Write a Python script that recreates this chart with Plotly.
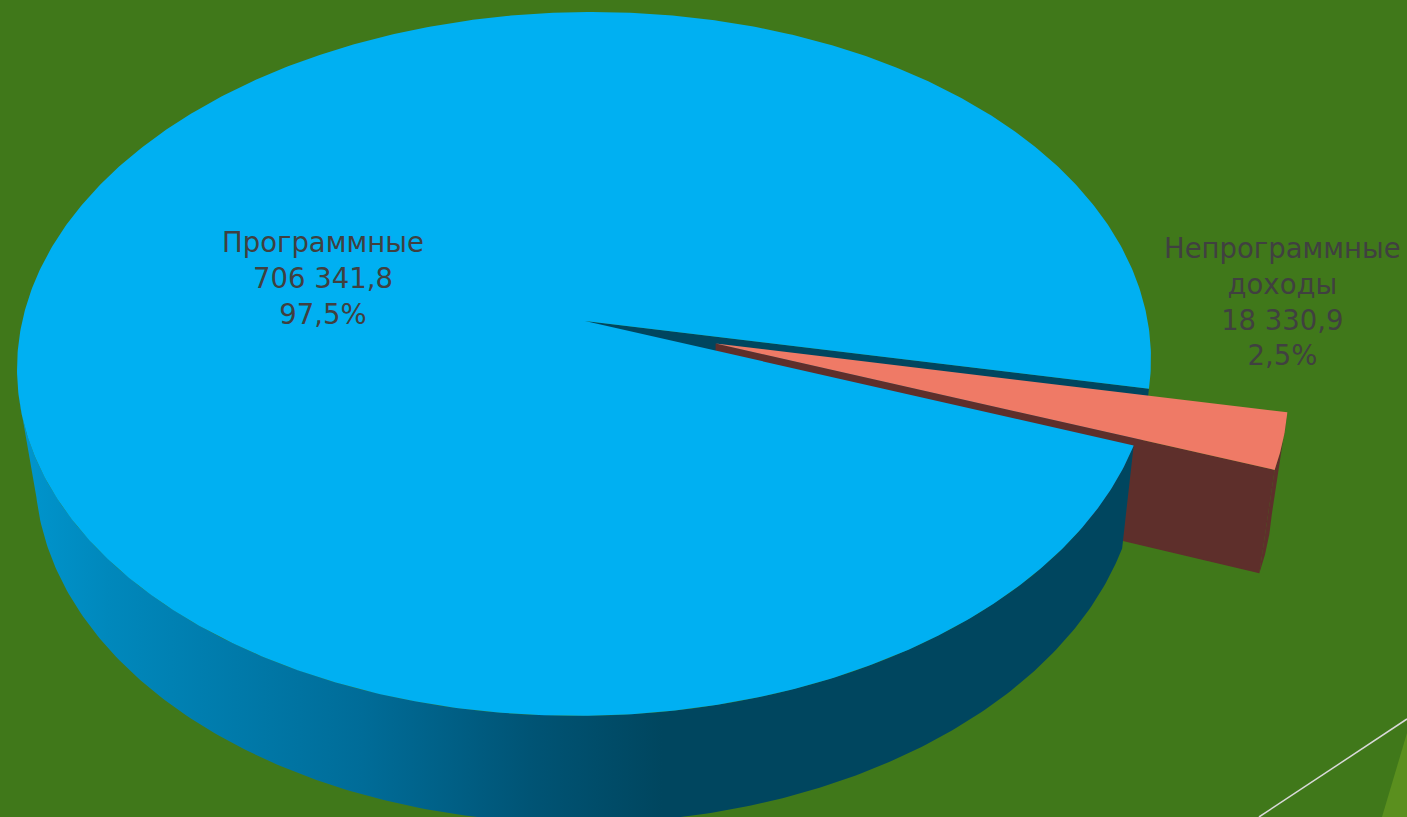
import numpy as np
import plotly.graph_objects as go

# ---- data ----
categories = ["Программные", "Непрограммные<br>доходы"]
values = [706341.8, 18330.9]
value_labels = ["706 341,8", "18 330,9"]
percent_labels = ["97,5%", "2,5%"]

# ---- style / view geometry ----
W, H = 1407, 817
GREEN = "#40781A"
BLUE_TOP = "#00B0F2"
BLUE_DARK = "#00465F"
PINK_TOP = "#EF7A66"
PINK_SIDE = "#5E2F2B"
TEXT = "#404040"
START_DEG = 11.0     # first-slice rotation
EXPLODE = 0.24
K = -0.122
SHEAR = -0.0227
TOP_VIEW = dict(ax=562.7, by=346.7, x0=584.0, y0=321.0, ym=364.0)
BOT_VIEW = dict(ax=547.9, by=352.3, x0=587.0, y0=422.0, ym=465.0)


def project(X, Y, v):
    """Perspective projection of the unit pie plane to the page."""
    d = 1 + K * Y
    y = v["y0"] + v["by"] * Y / d
    x = v["x0"] + v["ax"] * X / d + SHEAR * (y - v["ym"])
    return x, y


def rim(a0, a1, v, off=(0.0, 0.0), n=240):
    t = np.radians(np.linspace(a0, a1, n))
    return project(np.cos(t) + off[0], np.sin(t) + off[1], v)


def poly(x, y, color, **kw):
    return go.Scatter(x=list(x), y=list(y), mode="lines", fill="toself",
                      fillcolor=color, line=dict(width=0), hoverinfo="skip",
                      showlegend=False, **kw)


share = values[1] / sum(values)
a0 = START_DEG
a1 = START_DEG + share * 360
mid = np.radians((a0 + a1) / 2)
off = (EXPLODE * np.cos(mid), EXPLODE * np.sin(mid))

fig = go.Figure()


def cut_wall(angle, offset):
    """Vertical face from the apex to the rim at one slice edge."""
    c, s = np.cos(np.radians(angle)), np.sin(np.radians(angle))
    ox, oy = offset
    tx, ty = project(np.array([ox, c + ox]), np.array([oy, s + oy]), TOP_VIEW)
    bx, by = project(np.array([ox, c + ox]), np.array([oy, s + oy]), BOT_VIEW)
    return [tx[0], tx[1], bx[1], bx[0]], [ty[0], ty[1], by[1], by[0]]


# blue cut wall, seen through the gap
x, y = cut_wall(a0, (0, 0))
fig.add_trace(poly(x, y, BLUE_DARK))

# exploded slice: walls then top
x, y = cut_wall(a1, off)
fig.add_trace(poly(x, y, PINK_SIDE))
tx, ty = rim(a0, a1, TOP_VIEW, off, 30)
bx, by = rim(a0, a1, BOT_VIEW, off, 30)
fig.add_trace(poly(np.r_[tx, bx[::-1]], np.r_[ty, by[::-1]], PINK_SIDE))
ax_, ay_ = project(np.array([off[0]]), np.array([off[1]]), TOP_VIEW)
fig.add_trace(poly(np.r_[ax_, tx], np.r_[ay_, ty], PINK_TOP))

# big slice: outer wall with horizontal gradient
SIL = 168
tx, ty = rim(a1, SIL, TOP_VIEW)
bx, by = rim(a1, SIL, BOT_VIEW)
fig.add_trace(go.Scatter(
    x=list(np.r_[tx, bx[::-1]]), y=list(np.r_[ty, by[::-1]]),
    mode="lines", fill="toself", line=dict(width=0), hoverinfo="skip",
    showlegend=False,
    fillgradient=dict(type="horizontal", start=30, stop=1140, colorscale=[
        [0.0, "#0094CC"], [0.07, "#0088BC"], [0.3, "#006C98"],
        [0.45, "#005475"], [0.57, BLUE_DARK], [1.0, BLUE_DARK]]),
))

# big slice: top face
tx, ty = rim(a1, a0 + 360, TOP_VIEW, n=720)
ax_, ay_ = project(np.array([0.0]), np.array([0.0]), TOP_VIEW)
fig.add_trace(poly(np.r_[ax_, tx], np.r_[ay_, ty], BLUE_TOP))

label_pos = [(323, 278), (1282, 301)]
for cat, val, pct, (lx, ly) in zip(categories, value_labels, percent_labels, label_pos):
    fig.add_annotation(x=lx, y=ly, xref="x", yref="y", showarrow=False,
                       text=f"{cat}<br>{val}<br>{pct}", align="center",
                       xanchor="center", yanchor="middle",
                       font=dict(family="DejaVu Sans", size=27.5, color=TEXT))

fig.update_layout(
    width=W, height=H, autosize=False,
    margin=dict(l=0, r=0, t=0, b=0),
    paper_bgcolor=GREEN, plot_bgcolor=GREEN, showlegend=False,
    xaxis=dict(range=[0, W], visible=False, fixedrange=True),
    yaxis=dict(range=[H, 0], visible=False, fixedrange=True),
    shapes=[
        dict(type="path", path="M 1382 817 L 1407 733 L 1407 817 Z",
             fillcolor="#5A8F1E", line=dict(width=0), layer="below"),
        dict(type="line", x0=1259, y0=817, x1=1407, y1=719,
             line=dict(color="#D9D9D9", width=1.5), layer="below"),
    ],
)

fig.write_html("out.html", config={"displayModeBar": False},
               post_script="document.body.style.margin='0';document.body.style.overflow='hidden';")
